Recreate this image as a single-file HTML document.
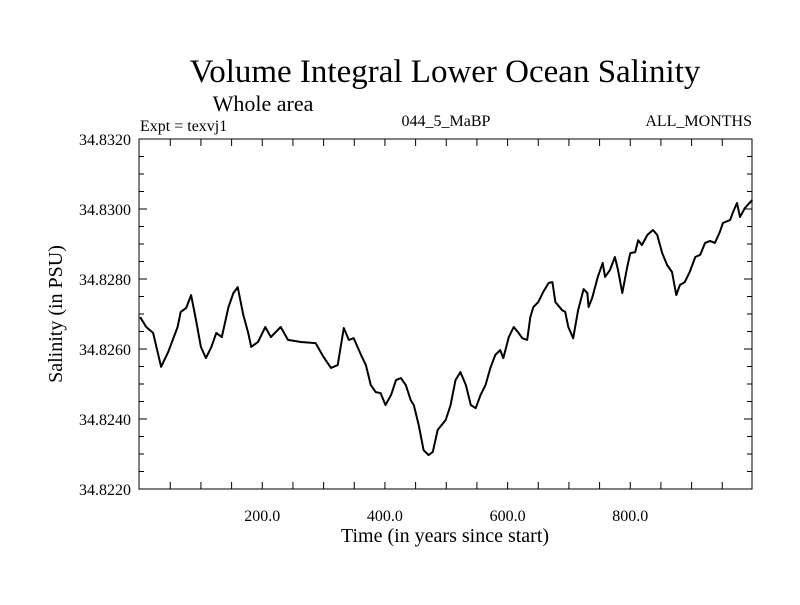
<!DOCTYPE html>
<html><head><meta charset="utf-8"><style>
body{margin:0;background:#fff}
svg text{font-family:"Liberation Serif",serif;fill:#000}
</style></head><body>
<svg id="chart" width="800" height="600" viewBox="0 0 800 600" xmlns="http://www.w3.org/2000/svg">
<rect width="800" height="600" fill="#fff"/>
<text x="445" y="82" font-size="33" text-anchor="middle">Volume Integral Lower Ocean Salinity</text>
<text x="263" y="111" font-size="22" text-anchor="middle">Whole area</text>
<text x="140" y="131" font-size="16">Expt = texvj1</text>
<text x="446" y="126" font-size="16" text-anchor="middle">044_5_MaBP</text>
<text x="752" y="126" font-size="16" text-anchor="end">ALL_MONTHS</text>
<text x="445" y="542" font-size="20" text-anchor="middle">Time (in years since start)</text>
<text x="0" y="0" font-size="20" text-anchor="middle" transform="translate(62,314) rotate(-90)">Salinity (in PSU)</text>
<g id="axes"></g>
<path id="series" fill="none" stroke="#000" stroke-width="2" stroke-linejoin="round"/>
<rect x="139" y="139" width="613" height="350" fill="none" stroke="#000" stroke-width="1"/>
</svg>
<script>
const years=[1,10.7,22,35,46.5,62,67,76,84,92,100,108,117,125,134,145,153,160,169,177,182,193,205,214,230,242,263,287,300,312,323,333,341,349,361,369,377,385,393,401,410,418,426,434,442,447,455,463,471,478,486,499,507,515,523,532,540,548,556,564,572,580,588,593,602,610,618,624,632,637,642,650,658,667,673,678,689,694,699,707,715,724,730,732,738,747,755,759,767,775,780,787,795,800,808,813,819,828,837,844,852,860,868,875,881,889,897,906,914,922,930,938,946,951,963,967,974,979,987,999];
const salinity=[34.82691,34.82663,34.82646,34.82549,34.82591,34.82663,34.82706,34.82717,34.82754,34.82683,34.82606,34.82574,34.82606,34.82646,34.82634,34.8272,34.8276,34.82777,34.82697,34.82646,34.82606,34.8262,34.82663,34.82634,34.82663,34.82626,34.8262,34.82617,34.82577,34.82546,34.82554,34.8266,34.82626,34.82631,34.82583,34.82554,34.82497,34.82477,34.82474,34.8244,34.82469,34.82511,34.82517,34.82497,34.82454,34.8244,34.82383,34.82311,34.82297,34.82306,34.82369,34.82397,34.8244,34.82511,34.82534,34.82497,34.8244,34.82431,34.82469,34.82497,34.82546,34.82583,34.82597,34.82574,34.82634,34.82663,34.82646,34.82631,34.82626,34.82691,34.8272,34.82734,34.82763,34.82789,34.82791,34.82734,34.82711,34.82706,34.82663,34.82631,34.82711,34.82771,34.8276,34.8272,34.82746,34.82806,34.82846,34.82806,34.82826,34.82863,34.82826,34.8276,34.82834,34.82874,34.82877,34.82911,34.82897,34.82926,34.8294,34.82926,34.82874,34.8284,34.8282,34.82754,34.82783,34.82791,34.8282,34.82863,34.82869,34.82903,34.82909,34.82903,34.82934,34.8296,34.82969,34.82989,34.83017,34.82977,34.83003,34.83026];
const xTickLabels=["200.0","400.0","600.0","800.0"];
const xTickValues=[200,400,600,800];
const yTickLabels=["34.8220","34.8240","34.8260","34.8280","34.8300","34.8320"];
const yTickValues=[34.822,34.824,34.826,34.828,34.830,34.832];
const X0=139,X1=752,Y0=489,Y1=139,XMIN=-1,XMAX=998.5,YMIN=34.822,YMAX=34.832;
function sx(v){return X0+(v-XMIN)/(XMAX-XMIN)*(X1-X0);}
function sy(v){return Y0-(v-YMIN)/(YMAX-YMIN)*(Y0-Y1);}
const ns="http://www.w3.org/2000/svg",g=document.getElementById('axes');
function line(x1,y1,x2,y2,name){const l=document.createElementNS(ns,'line');
l.setAttribute('x1',x1);l.setAttribute('y1',y1);l.setAttribute('x2',x2);l.setAttribute('y2',y2);
l.setAttribute('stroke','#000');l.setAttribute('stroke-width','1');


g.appendChild(l);}
function text(x,y,s,anchor,name){const t=document.createElementNS(ns,'text');
t.setAttribute('x',x);t.setAttribute('y',y);t.setAttribute('font-size','16');t.setAttribute('text-anchor',anchor);t.textContent=s;


g.appendChild(t);}
for(let v=50;v<1000;v+=50){const x=sx(v);line(x,Y0,x,Y0-7,'x-tick');line(x,Y1,x,Y1+7,'x-tick-top');}
for(let i=0;i<=20;i++){const v=YMIN+i*0.0005,y=sy(v),L=(i%4===0)?8:5;line(X0,y,X0+L,y,'y-tick');line(X1,y,X1-L,y,'y-tick-right');}
xTickValues.forEach((v,i)=>text(sx(v),521,xTickLabels[i],'middle','x-tick-label'));
yTickValues.forEach((v,i)=>text(131,sy(v)+6,yTickLabels[i],'end','y-tick-label'));
document.getElementById('series').setAttribute('d',years.map((v,i)=>(i?'L':'M')+sx(v).toFixed(1)+' '+sy(salinity[i]).toFixed(1)).join(' '));
</script>
</body></html>
